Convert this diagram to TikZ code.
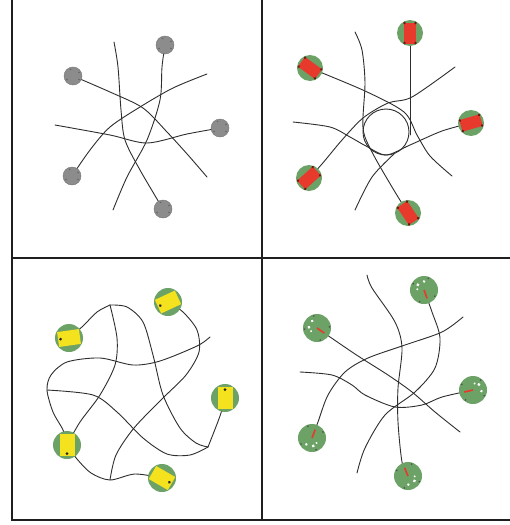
\documentclass[tikz,border=0pt]{standalone}
\usetikzlibrary{calc}
\definecolor{botgreen}{RGB}{108,162,102}
\definecolor{botred}{RGB}{232,58,44}
\definecolor{botyellow}{RGB}{244,226,30}
\definecolor{botgray}{RGB}{140,140,140}
\tikzset{
  strand/.style={draw=black!82, line width=0.9pt, line cap=round},
  frame/.style={draw=black!88, line width=2.6pt},
  graybot/.style={circle, fill=botgray, draw=black!55, line width=0.4pt, minimum size=18pt, inner sep=0pt},
  greenbot/.style={circle, fill=botgreen, minimum size=26pt, inner sep=0pt},
  bigbot/.style={circle, fill=botgreen, minimum size=28pt, inner sep=0pt},
  pics/redbar/.style={code={
    \fill[botred] (-10.5,-6) rectangle (10.5,6);
    \foreach \p in {(-10,-5.5),(-10,5.5),(10,-5.5),(10,5.5)} \fill[black!55!botred] \p circle (1.4);
  }},
  pics/yellowbar/.style={code={
    \fill[botyellow] (-11,-7.5) rectangle (11,7.5);
    \fill[black!85] (-8.5,0) circle (1.5);
  }},
  pics/sensor/.style={code={
    \draw[botred, line width=1.6pt] (0,0) -- (9,0);
    \fill[white] (-7,4) circle (1.6);
    \fill[white] (-8,-3) circle (1.4);
    \fill[white] (-3,6) circle (1.1);
    \foreach \a in {40,140,220,320} \fill[black!70] (\a:12.5) circle (0.9);
  }}
}
\begin{document}
\begin{tikzpicture}[x=1pt,y=-1pt]
\useasboundingbox (0,0) rectangle (510,525);
\fill[white] (0,0) rectangle (510,525);
% frame
\coordinate (tl) at (12,0); \coordinate (bl) at (12,520);
\coordinate (br) at (510,520); \coordinate (tm) at (262,0);
\coordinate (bm) at (262,520); \coordinate (ml) at (12,258); \coordinate (mr) at (510,258);
\draw[frame] (tl) -- (bl) -- (br);
\draw[frame] (tm) -- (bm);
\draw[frame] (ml) -- (mr);

% ---------------- panel 1 ----------------
\coordinate (g1) at (165,45);
\coordinate (g2) at (73,76);
\coordinate (g3) at (220,128);
\coordinate (g4) at (72,176);
\coordinate (g5) at (163,209);
\draw[strand] plot[smooth] coordinates {(g2) (110,92) (143,108) (167,132) (188,155) (207,177)};
\draw[strand] plot[smooth] coordinates {(g1) (162,67) (160,100) (147,140) (127,177) (113,210)};
\draw[strand] plot[smooth] coordinates {(g3) (187,134) (147,143) (110,135) (55,125)};
\draw[strand] plot[smooth] coordinates {(g4) (90,150) (110,127) (140,107) (173,88) (207,74)};
\draw[strand] plot[smooth] coordinates {(g5) (140,170) (125,140) (121,110) (118,67) (114,42)};
\foreach \n in {g1,g2,g3,g4,g5} \node[graybot] (n\n) at (\n) {};
\foreach \n in {g1,g2,g3,g4,g5} \foreach \a in {30,150,250,330} \fill[black!60] ($(n\n)+(\a:7)$) circle (0.9);

% ---------------- panel 2 ----------------
\coordinate (r1) at (410,33);
\coordinate (r2) at (310,68);
\coordinate (r3) at (471,123);
\coordinate (r4) at (309,178);
\coordinate (r5) at (408,213);
\coordinate (hub) at (386,132);
\coordinate (rend) at (410,135);
\draw[strand] (hub) circle (23);
\draw[strand] plot[smooth] coordinates {(r2) (365,91) (404,112) (417,135) (430,156) (452,176)};
\draw[strand] (r1) -- (rend);
\draw[strand] plot[smooth] coordinates {(r3) (442,131) (410,145) (386,155) (366,146) (350,137) (330,127) (293,122)};
\draw[strand] plot[smooth] coordinates {(r4) (322,164) (342,140) (363,118) (388,103) (412,97) (455,67)};
\draw[strand] plot[smooth] coordinates {(r5) (392,187) (372,152) (363,128) (365,83) (362,50) (355,32)};
\draw[strand] plot[smooth] coordinates {(394,154) (372,177) (355,210)};
\foreach \n/\ang in {r1/90,r2/-36,r3/16,r4/42,r5/124} {
  \node[greenbot] (n\n) at (\n) {};
  \pic[rotate=\ang] at (n\n) {redbar};
}

% ---------------- panel 3 ----------------
\coordinate (y1) at (168,302);
\coordinate (y2) at (69,338);
\coordinate (y3) at (225,398);
\coordinate (y4) at (67,445);
\coordinate (y5) at (162,478);
\coordinate (cusp) at (110,305);
\coordinate (knot) at (208,447);
\coordinate (meet) at (110,480);
\coordinate (lft) at (47,390);
\draw[strand] plot[smooth] coordinates {(y1) (183,312) (197,330) (199,352) (186,375) (163,398) (134,428) (116,455) (meet)};
\draw[strand] plot[smooth] coordinates {(y4) (77,459) (91,473) (meet) (135,474) (y5)};
\draw[strand] plot[smooth] coordinates {(y2) (83,326) (97,312) (cusp)};
\draw[strand] plot[smooth] coordinates {(cusp) (117,338) (115,365) (100,395) (80,422) (y4)};
\draw[strand] plot[smooth] coordinates {(cusp) (127,307) (143,322) (153,355) (163,395) (180,428) (196,443) (knot)};
\draw[strand] plot[smooth] coordinates {(y3) (220,416) (knot)};
\draw[strand] plot[smooth] coordinates {(210,337) (197,346) (160,361) (133,365) (100,358) (67,362) (51,375) (lft) (53,412) (63,430) (y4)};
\draw[strand] plot[smooth] coordinates {(lft) (93,395) (117,412) (143,438) (167,454) (190,455) (knot)};
\foreach \n/\ang in {y1/25,y2/8,y3/-90,y4/90,y5/150} {
  \node[bigbot] (n\n) at (\n) {};
  \pic[rotate=\ang] at (n\n) {yellowbar};
}

% ---------------- panel 4 ----------------
\coordinate (s1) at (424,290);
\coordinate (s2) at (317,328);
\coordinate (s3) at (473,390);
\coordinate (s4) at (312,438);
\coordinate (s5) at (408,476);
\draw[strand] plot[smooth] coordinates {(s2) (355,354) (388,375) (412,392) (435,412) (460,432)};
\draw[strand] plot[smooth] coordinates {(s1) (432,312) (440,338) (435,368) (415,392) (385,415) (365,448) (357,473)};
\draw[strand] plot[smooth] coordinates {(s3) (442,397) (422,405) (395,407) (365,395) (352,385) (332,375) (300,372)};
\draw[strand] plot[smooth] coordinates {(s4) (318,422) (328,395) (345,372) (368,358) (405,345) (442,332) (463,317)};
\draw[strand] plot[smooth] coordinates {(s5) (402,462) (398,422) (398,388) (402,348) (395,322) (372,288) (367,275)};
\foreach \n/\ang in {s1/-70,s2/-35,s3/193,s4/69,s5/113} {
  \node[bigbot] (n\n) at (\n) {};
  \pic[rotate=\ang] at (n\n) {sensor};
}
\end{tikzpicture}
\end{document}
